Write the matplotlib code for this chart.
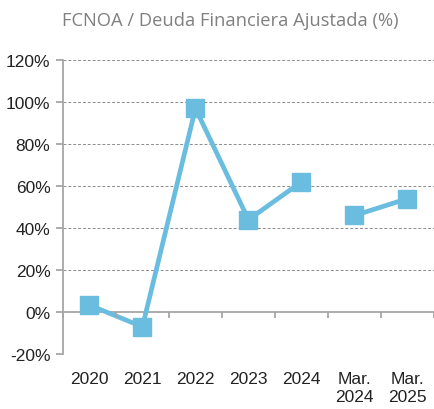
import numpy as np
import matplotlib
matplotlib.use("Agg")
from matplotlib import pyplot as plt

# data
categorias = ["2020", "2021", "2022", "2023", "2024", "Mar.\n2024", "Mar.\n2025"]
anual = [3.3, -7.0, 97.0, 44.0, 62.0]
trimestral = [46.0, 54.0]
yticks = [-20, 0, 20, 40, 60, 80, 100, 120]

color = "#6bbde0"
gris = "#a6a6a6"

plt.rcParams["font.family"] = ["Liberation Sans Narrow", "Liberation Sans", "DejaVu Sans"]

fig = plt.figure(figsize=(4.34, 4.10), dpi=100)
ax = fig.add_axes([0.145, 0.134, 0.855, 0.717])

x_anual = np.arange(len(anual))
x_trim = np.arange(len(anual), len(anual) + len(trimestral))
for xs, ys in [(x_anual, anual), (x_trim, trimestral)]:
    ax.plot(xs, ys, color=color, lw=3.4, marker="s", ms=12.5, mec=color, mfc=color, solid_joinstyle="miter")

ax.set_xlim(-0.5, len(categorias) - 0.5)
ax.set_ylim(-20, 120)
ax.set_yticks(yticks)
ax.set_yticklabels([f"{v}%" for v in yticks])
for v in yticks:
    if v != 0:
        ax.axhline(v, color="#8c8c8c", lw=0.7, ls=(0, (3, 2)), zorder=0)
ax.axhline(0, color=gris, lw=1.3, zorder=1)
ax.vlines(np.arange(len(categorias) + 1) - 0.5, -3, 0, color=gris, lw=1.3, clip_on=False)

ax.set_xticks(np.arange(len(categorias)))
ax.set_xticklabels(categorias, fontsize=12.5, color="#222222", linespacing=1.3)
ax.tick_params(axis="x", length=0, pad=12)
ax.tick_params(axis="y", length=5, color=gris, width=1.3, labelsize=12.5, labelcolor="#222222", pad=4)

for s in ["top", "right", "bottom"]:
    ax.spines[s].set_visible(False)
ax.spines["left"].set_color(gris)
ax.spines["left"].set_linewidth(1.3)

fig.text(0.53, 0.95, "FCNOA / Deuda Financiera Ajustada (%)", ha="center", va="center",
         fontsize=13.2, color="#808080", family=["Open Sans", "DejaVu Sans"])

fig.savefig("out.png", dpi=100)
